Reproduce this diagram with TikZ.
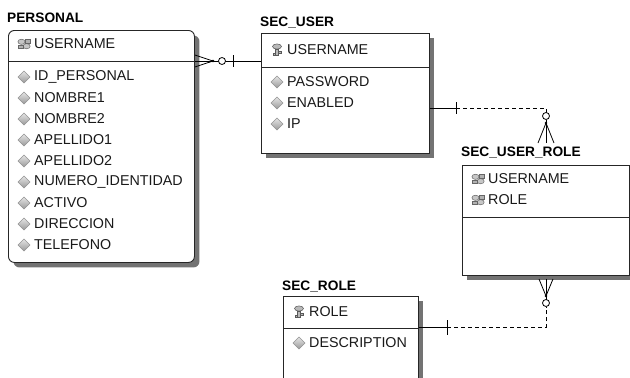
\documentclass[tikz,border=0pt]{standalone}
\usepackage{fontspec}
\setmainfont{Liberation Sans}
\usetikzlibrary{shapes.geometric,shadows}

\tikzset{
  entity/.style={draw=black!85, fill=white, line width=0.9pt, anchor=north west,
    inner sep=0pt, general shadow={fill=black!55, shadow xshift=5pt, shadow yshift=-5pt}},
  ttl/.style={anchor=west, inner sep=0pt, font=\fontsize{13.7}{16}\selectfont\bfseries},
  col/.style={anchor=west, inner sep=0pt, font=\fontsize{14.3}{16}\selectfont, text=black!90},
  divider/.style={line width=0.9pt, black!85},
  rel/.style={line width=0.8pt, black},
  optional/.style={rel, dash pattern=on 4pt off 3pt},
  ring/.style={rel, fill=white},
  attricon/.pic={
    \path[top color=gray!20, bottom color=gray!80, draw=gray!85, line width=0.5pt]
      (0,-6) -- (6,0) -- (0,6) -- (-6,0) -- cycle;
  },
  pkicon/.pic={
    \path[fill=gray!55, draw=black!65, line width=0.5pt]
      (0,-3.5) ellipse[x radius=4.5pt, y radius=2.6pt];
    \path[fill=gray!55, draw=black!65, line width=0.5pt]
      (-1.4,-1) rectangle (1.4,5.5);
    \path[fill=gray!55, draw=black!65, line width=0.5pt]
      (1.4,1.5) rectangle (3.8,3) (-1.4,3.5) rectangle (-3.8,5);
  },
  fkicon/.pic={
    \path[fill=gray!45, draw=black!60, line width=0.5pt]
      (-2.5,-2.2) ellipse[x radius=3.6pt, y radius=2.6pt];
    \path[fill=gray!45, draw=black!60, line width=0.5pt]
      (2.6,2.2) ellipse[x radius=3.6pt, y radius=2.6pt];
    \path[fill=gray!60, draw=black!60, line width=0.5pt]
      (1.2,-4.5) rectangle (6,-1.2) (-6,1.2) rectangle (-1.2,4.5);
  }
}

% one column line of an entity: icon, then name
\newcommand{\colrow}[5]{%
  \pic at (#1+16,#2) {#5};
  \node[col] (#3) at (#1+26,#2) {#4};}

\begin{document}
\begin{tikzpicture}[x=1pt, y=-1pt]
  \clip (0,0) rectangle (630,378);
  \fill[white] (0,0) rectangle (630,378);

  % ---------- PERSONAL ----------
  \node[ttl] (tpersonal) at (7,18) {PERSONAL};
  \node[entity, rounded corners=6pt, minimum width=186pt, minimum height=232pt]
    (personal) at (8,30) {};
  \draw[divider] (personal.west |- 0,61) -- (personal.east |- 0,61);
  \colrow{8}{44}{pusername}{USERNAME}{fkicon}
  \colrow{8}{77}{pid}{ID\_PERSONAL}{attricon}
  \colrow{8}{98}{pn1}{NOMBRE1}{attricon}
  \colrow{8}{119}{pn2}{NOMBRE2}{attricon}
  \colrow{8}{140}{pa1}{APELLIDO1}{attricon}
  \colrow{8}{161}{pa2}{APELLIDO2}{attricon}
  \colrow{8}{182}{pnum}{NUMERO\_IDENTIDAD}{attricon}
  \colrow{8}{203}{pact}{ACTIVO}{attricon}
  \colrow{8}{224}{pdir}{DIRECCION}{attricon}
  \colrow{8}{245}{ptel}{TELEFONO}{attricon}

  % ---------- SEC_USER ----------
  \node[ttl] (tsecuser) at (260,23) {SEC\_USER};
  \node[entity, minimum width=168pt, minimum height=120pt] (secuser) at (261,33) {};
  \draw[divider] (secuser.west |- 0,67) -- (secuser.east |- 0,67);
  \colrow{261}{50}{susername}{USERNAME}{pkicon}
  \colrow{261}{82}{spass}{PASSWORD}{attricon}
  \colrow{261}{103}{senab}{ENABLED}{attricon}
  \colrow{261}{124}{sip}{IP}{attricon}

  % ---------- SEC_USER_ROLE ----------
  \node[ttl] (tsecuserrole) at (461,153) {SEC\_USER\_ROLE};
  \node[entity, minimum width=167pt, minimum height=110pt] (secuserrole) at (462,165) {};
  \draw[divider] (secuserrole.west |- 0,217) -- (secuserrole.east |- 0,217);
  \colrow{462}{179}{urusername}{USERNAME}{fkicon}
  \colrow{462}{200}{urrole}{ROLE}{fkicon}

  % ---------- SEC_ROLE ----------
  \node[ttl] (tsecrole) at (282,287) {SEC\_ROLE};
  \node[entity, minimum width=135pt, minimum height=110pt] (secrole) at (283,296) {};
  \draw[divider] (secrole.west |- 0,328) -- (secrole.east |- 0,328);
  \colrow{283}{312}{rrole}{ROLE}{pkicon}
  \colrow{283}{343}{rdesc}{DESCRIPTION}{attricon}

  % ---------- SEC_USER 1 -- 0..n PERSONAL ----------
  \coordinate (j1) at (213,61);
  \draw[rel] (personal.east |- 0,61) -- (secuser.west |- 0,61);
  \draw[rel] (personal.east |- 0,55) -- (j1) -- (personal.east |- 0,67);
  \fill (j1) circle[radius=1.3pt];
  \draw[ring] (222,61) circle[radius=3.5pt];
  \draw[rel] (233,55) -- (233,67);

  % ---------- SEC_USER 1 -- 0..n SEC_USER_ROLE ----------
  \coordinate (b2) at (456,108);
  \coordinate (k2) at (546,108);
  \coordinate (j2) at (546,123);
  \coordinate (f2) at (546,143);
  \draw[rel] (secuser.east |- b2) -- (b2);
  \draw[rel] (456,102) -- (456,114);
  \draw[optional] (b2) -- (k2) -- (546,112.5);
  \draw[ring] (546,116) circle[radius=3.5pt];
  \draw[rel] (546,119.5) -- (f2);
  \draw[rel] (538,143) -- (j2) -- (554,143);
  \fill (j2) circle[radius=1.3pt];

  % ---------- SEC_ROLE 1 -- 0..n SEC_USER_ROLE ----------
  \coordinate (b3) at (447,327);
  \coordinate (k3) at (546,327);
  \coordinate (j3) at (546,296);
  \draw[rel] (secrole.east |- b3) -- (b3);
  \draw[rel] (447,320) -- (447,335);
  \draw[optional] (b3) -- (k3) -- (546,306.5);
  \draw[ring] (546,303) circle[radius=3.5pt];
  \draw[rel] (546,299.5) -- (546,279);
  \draw[rel] (539,279) -- (j3) -- (553,279);
  \fill (j3) circle[radius=1.3pt];
\end{tikzpicture}
\end{document}
